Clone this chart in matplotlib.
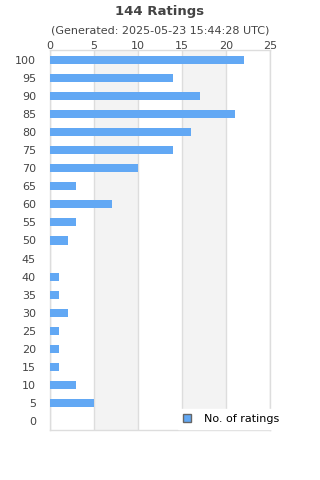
import numpy as np
import matplotlib.pyplot as plt

# rating buckets and counts
ratings = [0, 5, 10, 15, 20, 25, 30, 35, 40, 45, 50,
           55, 60, 65, 70, 75, 80, 85, 90, 95, 100]
counts = [0, 5, 3, 1, 1, 1, 2, 1, 1, 0, 2,
          3, 7, 3, 10, 14, 16, 21, 17, 14, 22]
x_ticks = [0, 5, 10, 15, 20, 25]

fig = plt.figure(figsize=(3.2, 4.8), dpi=100)
ax = fig.add_axes([0.156, 0.104, 0.6875, 0.792])

pos = np.arange(len(ratings))
ax.barh(pos, counts, height=0.45, color='#62a8f4', zorder=3, label='No. of ratings')

# alternating shaded bands
for i in range(len(x_ticks) - 1):
    if i % 2 == 1:
        ax.axvspan(x_ticks[i], x_ticks[i + 1], color='#f3f3f3', zorder=0, lw=0)
for xv in x_ticks:
    ax.axvline(xv, color='#dddddd', lw=1, zorder=1)

ax.set_xlim(0, 25)
ax.set_ylim(-0.5, 20.55)
ax.set_yticks(pos)
ax.set_yticklabels([str(r) for r in ratings], fontsize=8, color='#444444')
ax.set_xticks(x_ticks)
ax.set_xticklabels([str(v) for v in x_ticks], fontsize=8, color='#444444')
ax.xaxis.tick_top()
ax.tick_params(axis='both', length=0)
ax.tick_params(axis='x', pad=-1)
ax.tick_params(axis='y', pad=10)
for s in ax.spines.values():
    s.set_color('#dddddd')
    s.set_linewidth(1)

fig.text(0.5, 0.977, '144 Ratings', ha='center', va='center',
         fontsize=9.5, fontweight='bold', color='#444444')
fig.text(0.5, 0.937, '(Generated: 2025-05-23 15:44:28 UTC)', ha='center', va='center',
         fontsize=8, color='#444444')

leg = ax.legend(loc='lower right', bbox_to_anchor=(1.09, -0.012), fontsize=8,
                frameon=True, fancybox=False, handlelength=0.7, handleheight=0.7,
                borderpad=0.45, handletextpad=1.2)
leg.get_frame().set_edgecolor('white')
leg.get_frame().set_alpha(1)
for h in leg.legend_handles:
    h.set_edgecolor('#666666')
    h.set_linewidth(1)
leg.set_zorder(5)

fig.savefig('out.png', dpi=100)
